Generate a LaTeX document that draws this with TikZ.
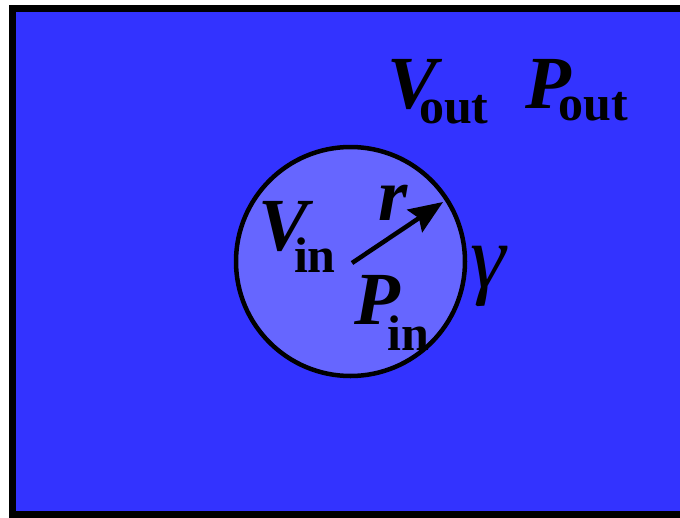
\documentclass[tikz,border=0pt]{standalone}
\usepackage{fontspec}
\setmainfont{Liberation Serif}
\usetikzlibrary{arrows.meta}
\definecolor{bgblue}{RGB}{51,51,255}
\definecolor{inblue}{RGB}{102,102,255}
\newcommand{\mainf}{\fontsize{75}{75}\selectfont\bfseries\itshape}
\newcommand{\subf}{\fontsize{50}{50}\selectfont\bfseries\upshape}
\begin{document}
\begin{tikzpicture}[x=1pt,y=-1pt,
  lbl/.style={inner sep=0pt,outer sep=0pt,anchor=base west,font=\mainf}]
\useasboundingbox (0,0) rectangle (680,517);
\begin{scope}
\clip (0,0) rectangle (680,517);
\draw[line width=7pt,fill=bgblue] (12.5,8.5) rectangle (720,514.5);
\end{scope}
\node[circle,draw=black,line width=4.5pt,fill=inblue,minimum size=229pt,inner sep=0pt] (ball) at (350.5,261.5) {};
\coordinate (center) at (352,263);
\coordinate (tip) at (443,202);
\draw[line width=4.5pt,-{Stealth[length=34pt,width=27pt,inset=5pt]}] (center) -- (tip);
\node[lbl] (vout) at (387,108) {V\kern-18pt\raisebox{-15pt}{\subf out}};
\node[lbl] (pout) at (525,108) {P\kern-12pt\raisebox{-12pt}{\subf out}};
\node[lbl] (vin) at (258,250) {V\kern-14pt\raisebox{-22pt}{\subf in}};
\node[lbl] (pin) at (354,324) {P\kern-12pt\raisebox{-26pt}{\subf in}};
\node[lbl] (r) at (378.5,220) {r};
\node[lbl,font=\fontsize{90}{90}\selectfont\itshape] (gamma) at (470,287) {γ};
\end{tikzpicture}
\end{document}
